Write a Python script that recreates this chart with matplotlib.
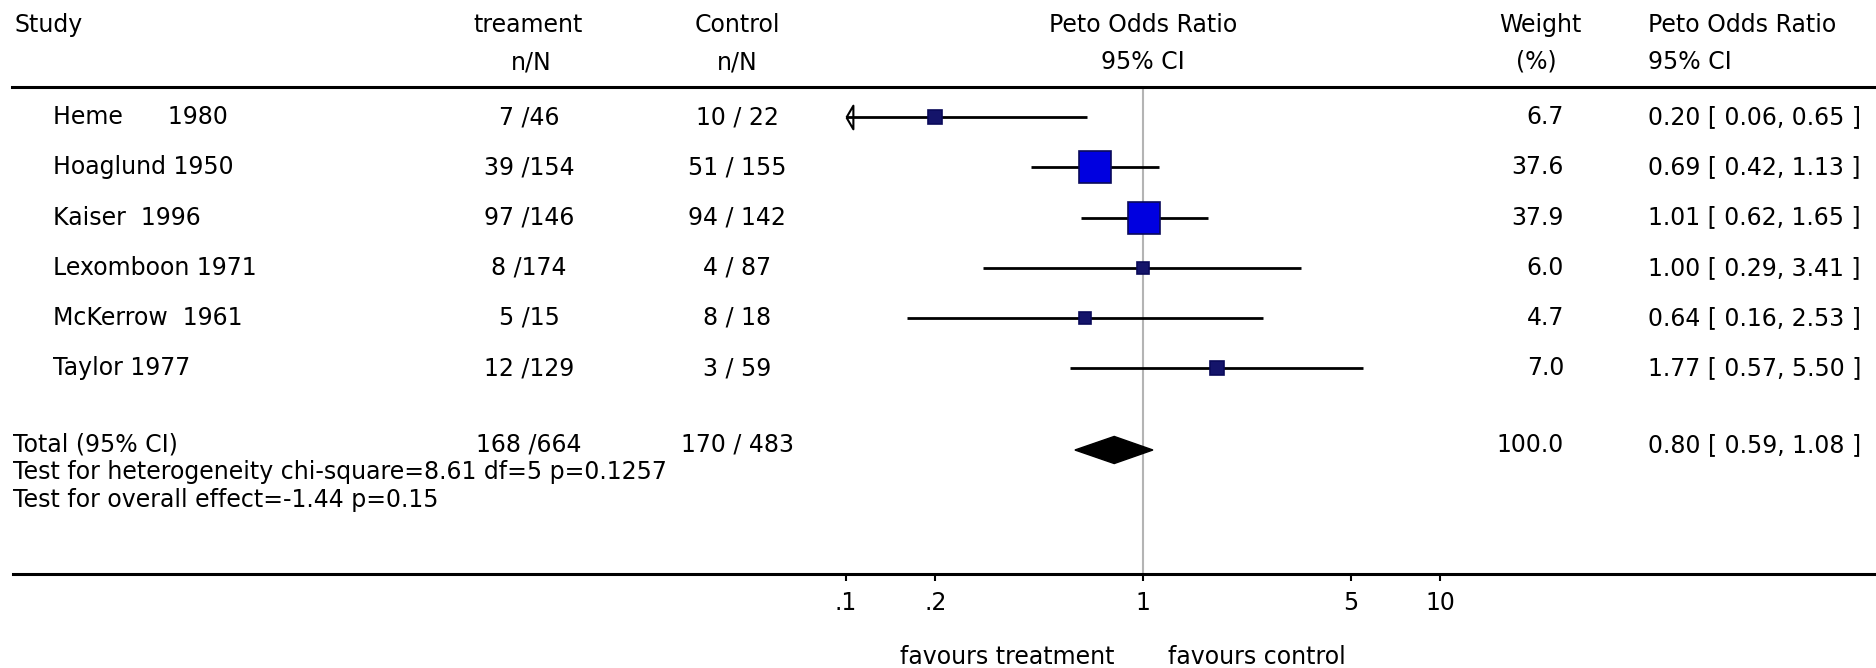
# forest plot - Peto odds ratio meta-analysis
import numpy as np
import matplotlib
matplotlib.use("Agg")
import matplotlib.pyplot as plt
from matplotlib import transforms
from matplotlib.lines import Line2D
from matplotlib.ticker import NullLocator

# ---- data ----
studies = ["Heme      1980", "Hoaglund 1950", "Kaiser  1996",
           "Lexomboon 1971", "McKerrow  1961", "Taylor 1977"]
treat_n = [7, 39, 97, 8, 5, 12]
treat_N = [46, 154, 146, 174, 15, 129]
ctrl_n = [10, 51, 94, 4, 8, 3]
ctrl_N = [22, 155, 142, 87, 18, 59]
weights = [6.7, 37.6, 37.9, 6.0, 4.7, 7.0]
odds = [0.20, 0.69, 1.01, 1.00, 0.64, 1.77]
ci_low = [0.06, 0.42, 0.62, 0.29, 0.16, 0.57]
ci_high = [0.65, 1.13, 1.65, 3.41, 2.53, 5.50]

total_treat = (168, 664)
total_ctrl = (170, 483)
total_weight = 100.0
total_or = 0.80
total_low = 0.59
total_high = 1.08

het_chi2, het_df, het_p = 8.61, 5, 0.1257
overall_z, overall_p = -1.44, 0.15

ticks = [0.1, 0.2, 1, 5, 10]
tick_labels = [".1", ".2", "1", "5", "10"]

# ---- figure ----
W, H = 1876, 668
FS = 17
plt.rcParams['font.family'] = 'DejaVu Sans'
fig = plt.figure(figsize=(W / 100, H / 100), dpi=100, facecolor="white")

def fx(x):
    return x / W

def fy(y):
    return 1 - y / H

# plot area for the odds ratios (log scale)
ax = fig.add_axes([fx(846), fy(574), (1440 - 846) / W, (574 - 87) / H])
ax.set_xscale("log")
ax.set_xlim(0.1, 10)
n = len(studies)
ypos = np.arange(n)
y_total = n + 0.63
ax.set_ylim(n + 3.1, -0.6)
for sp in ax.spines.values():
    sp.set_visible(False)
ax.patch.set_alpha(0)
ax.set_yticks([])
ax.set_xticks(ticks)
ax.set_xticklabels(tick_labels)
ax.xaxis.set_minor_locator(NullLocator())
ax.tick_params(axis="x", direction="out", length=5, width=1.5, labelsize=FS, pad=7)

# line of no effect
ax.axvline(1, color="#b4b4b4", lw=1.5, zorder=1)

# arrow used when a CI runs off the left side
arrow = [(0, 0), (0.583, -1), (0.583, 1), (0, 0)]
xmin = ax.get_xlim()[0]

for i in range(n):
    y = ypos[i]
    x0 = max(ci_low[i], xmin)
    ax.plot([x0, ci_high[i]], [y, y], color="black", lw=2, solid_capstyle="butt", zorder=2)
    # big boxes show bright blue, small ones are mostly dark outline
    face = "#0000e0" if weights[i] > 20 else "#14146a"
    ax.plot(odds[i], y, marker="s", ms=3.75 * np.sqrt(weights[i]),
            mfc=face, mec="#0a0a5a", mew=1.2, zorder=3)
    if ci_low[i] < xmin:
        ax.plot(xmin, y, marker=arrow, ms=17, mfc="none", mec="black", mew=1.5,
                clip_on=False, zorder=3)

# pooled estimate diamond
h = 0.27
ax.fill([total_low, total_or, total_high, total_or],
        [y_total, y_total - h, y_total, y_total + h], color="black", zorder=3)

# ---- table text ----
trans = transforms.blended_transform_factory(fig.transFigure, ax.transData)

def cell(x, y, s, ha):
    ax.text(fx(x), y, s, transform=trans, ha=ha, va="center", fontsize=FS, clip_on=False)

for i in range(n):
    y = ypos[i]
    cell(53, y, studies[i], "left")
    cell(529, y, f"{treat_n[i]} /{treat_N[i]}", "center")
    cell(737, y, f"{ctrl_n[i]} / {ctrl_N[i]}", "center")
    cell(1564, y, f"{weights[i]:.1f}", "right")
    cell(1648, y, f"{odds[i]:.2f} [ {ci_low[i]:.2f}, {ci_high[i]:.2f} ]", "left")

yt = y_total - 0.1
cell(13, yt, "Total (95% CI)", "left")
cell(529, yt, f"{total_treat[0]} /{total_treat[1]}", "center")
cell(737, yt, f"{total_ctrl[0]} / {total_ctrl[1]}", "center")
cell(1564, yt, f"{total_weight:.1f}", "right")
cell(1648, yt, f"{total_or:.2f} [ {total_low:.2f}, {total_high:.2f} ]", "left")

fig.text(fx(13), fy(472), f"Test for heterogeneity chi-square={het_chi2} df={het_df} p={het_p}",
         ha="left", va="center", fontsize=FS)
fig.text(fx(13), fy(500), f"Test for overall effect={overall_z} p={overall_p}",
         ha="left", va="center", fontsize=FS)

# headers
headers = [
    (14, 25, "Study", "left"),
    (528, 25, "treament", "center"), (531, 62, "n/N", "center"),
    (737, 25, "Control", "center"), (737, 62, "n/N", "center"),
    (1143, 25, "Peto Odds Ratio", "center"), (1143, 62, "95% CI", "center"),
    (1540, 25, "Weight", "center"), (1536, 62, "(%)", "center"),
    (1648, 25, "Peto Odds Ratio", "left"), (1648, 62, "95% CI", "left"),
]
for x, y, s, ha in headers:
    fig.text(fx(x), fy(y), s, ha=ha, va="center", fontsize=FS)

# horizontal rules
fig.add_artist(Line2D([fx(12), 1], [fy(87), fy(87)], color="black", lw=2.2))
fig.add_artist(Line2D([fx(13), 1], [fy(574), fy(574)], color="black", lw=2.2))

fig.text(fx(1115), fy(657), "favours treatment", ha="right", va="center", fontsize=FS)
fig.text(fx(1168), fy(657), "favours control", ha="left", va="center", fontsize=FS)

fig.savefig("out.png", dpi=100, facecolor="white")
plt.close(fig)
